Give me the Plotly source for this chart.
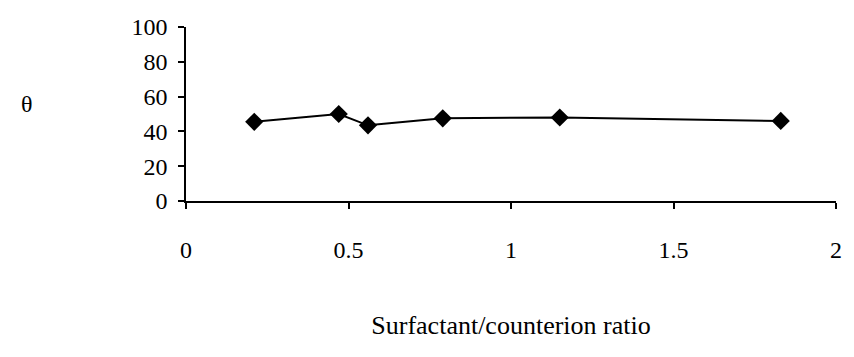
import plotly.graph_objects as go

ratio = [0.21, 0.47, 0.56, 0.79, 1.15, 1.83]
theta = [45.5, 50, 43.5, 47.5, 48, 46]
x_ticks = [0, 0.5, 1, 1.5, 2]
x_tick_labels = ["0", "0.5", "1", "1.5", "2"]
y_ticks = [0, 20, 40, 60, 80, 100]
y_tick_labels = ["0", "20", "40", "60", "80", "100"]

font = "Liberation Serif, Times New Roman, serif"

fig = go.Figure()
fig.add_trace(go.Scatter(
    x=ratio, y=theta, mode="lines+markers",
    line=dict(color="black", width=2),
    marker=dict(symbol="diamond", size=14, color="black"),
    showlegend=False,
))

fig.update_layout(
    width=854, height=357,
    margin=dict(l=186, r=15, t=27, b=156),
    paper_bgcolor="white", plot_bgcolor="white",
    font=dict(family=font, size=24, color="black"),
    xaxis=dict(
        range=[0, 2], tickvals=x_ticks, ticktext=x_tick_labels,
        showline=True, linecolor="black", linewidth=1.5,
        ticks="outside", ticklen=6, tickcolor="black", tickwidth=1.5,
        showgrid=False, zeroline=False, ticklabelstandoff=20,
        title=dict(text="Surfactant/counterion ratio", font=dict(size=26), standoff=54),
    ),
    yaxis=dict(
        range=[0, 100], tickvals=y_ticks, ticktext=y_tick_labels,
        showline=True, linecolor="black", linewidth=1.5,
        ticks="outside", ticklen=6, tickcolor="black", tickwidth=1.5,
        showgrid=False, zeroline=False, ticklabelstandoff=6,
    ),
)
fig.add_annotation(
    text="θ", xref="paper", yref="paper", x=-0.245, y=0.56,
    showarrow=False, font=dict(size=24, family=font), xanchor="center", yanchor="middle",
)

fig.write_html("out.html")
